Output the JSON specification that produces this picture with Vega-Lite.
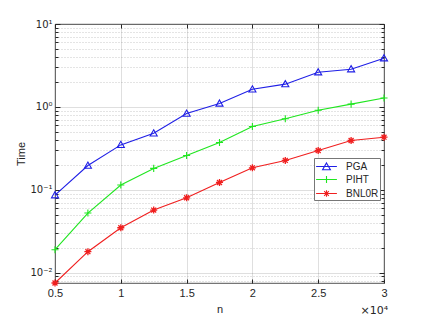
{
  "$schema": "https://vega.github.io/schema/vega-lite/v6.json",
  "width": 329,
  "height": 259,
  "autosize": {"type": "none"},
  "padding": {"left": 55, "top": 24, "right": 41, "bottom": 36},
  "background": "white",
  "title": {"text": "×10⁴", "orient": "bottom", "anchor": "end", "offset": -9, "dx": -2, "fontSize": 11, "fontWeight": "normal", "color": "#262626", "font": "DejaVu Sans"},
  "config": {
    "font": "Liberation Sans",
    "view": {"stroke": "#262626", "strokeWidth": 0.8},
    "axis": {"labelFont": "Liberation Sans", "titleFont": "Liberation Sans", "labelColor": "#262626", "titleColor": "#262626", "labelFontSize": 11, "titleFontSize": 11, "titleFontWeight": "normal", "domainColor": "#262626", "tickColor": "#262626", "gridColor": "#262626"}
  },
  "data": {"values": [
    {"n": 5000, "series": "PGA", "time": 0.086},
    {"n": 7500, "series": "PGA", "time": 0.196},
    {"n": 10000, "series": "PGA", "time": 0.348},
    {"n": 12500, "series": "PGA", "time": 0.48},
    {"n": 15000, "series": "PGA", "time": 0.83},
    {"n": 17500, "series": "PGA", "time": 1.10},
    {"n": 20000, "series": "PGA", "time": 1.63},
    {"n": 22500, "series": "PGA", "time": 1.88},
    {"n": 25000, "series": "PGA", "time": 2.62},
    {"n": 27500, "series": "PGA", "time": 2.85},
    {"n": 30000, "series": "PGA", "time": 3.86},
    {"n": 5000, "series": "PIHT", "time": 0.0189},
    {"n": 7500, "series": "PIHT", "time": 0.0524},
    {"n": 10000, "series": "PIHT", "time": 0.114},
    {"n": 12500, "series": "PIHT", "time": 0.181},
    {"n": 15000, "series": "PIHT", "time": 0.259},
    {"n": 17500, "series": "PIHT", "time": 0.372},
    {"n": 20000, "series": "PIHT", "time": 0.58},
    {"n": 22500, "series": "PIHT", "time": 0.72},
    {"n": 25000, "series": "PIHT", "time": 0.91},
    {"n": 27500, "series": "PIHT", "time": 1.08},
    {"n": 30000, "series": "PIHT", "time": 1.28},
    {"n": 5000, "series": "BNL0R", "time": 0.0075},
    {"n": 7500, "series": "BNL0R", "time": 0.0179},
    {"n": 10000, "series": "BNL0R", "time": 0.0348},
    {"n": 12500, "series": "BNL0R", "time": 0.0569},
    {"n": 15000, "series": "BNL0R", "time": 0.080},
    {"n": 17500, "series": "BNL0R", "time": 0.1225},
    {"n": 20000, "series": "BNL0R", "time": 0.184},
    {"n": 22500, "series": "BNL0R", "time": 0.226},
    {"n": 25000, "series": "BNL0R", "time": 0.298},
    {"n": 27500, "series": "BNL0R", "time": 0.393},
    {"n": 30000, "series": "BNL0R", "time": 0.431}
  ]},
  "encoding": {
    "x": {"field": "n", "type": "quantitative", "title": "n",
      "scale": {"domain": [5000, 30000], "nice": false, "zero": false},
      "axis": {"values": [5000, 10000, 15000, 20000, 25000, 30000], "labelExpr": "format(datum.value/10000, '.2~f')", "grid": true, "gridOpacity": 0.15, "tickSize": -4, "labelPadding": 8, "domain": false, "titlePadding": 5, "labelFlush": false}},
    "y": {"field": "time", "type": "quantitative",
      "scale": {"type": "log", "domain": [0.0075, 10], "nice": false}},
    "color": {"field": "series", "type": "nominal",
      "scale": {"domain": ["PGA", "PIHT", "BNL0R"], "range": ["#1f1fe6", "#1fe61f", "#f01f1f"]},
      "legend": {"title": null, "orient": "none", "legendX": 259, "legendY": 134, "fillColor": "white", "strokeColor": "#777777", "padding": 1, "labelFontSize": 10, "labelColor": "#262626", "labelFont": "Liberation Sans", "symbolSize": 169, "symbolStrokeWidth": 1.1, "rowPadding": 0, "symbolOffset": 4, "labelOffset": 12, "symbolType": "stroke",
        "encode": {"symbols": {"update": {"shape": {"signal": "datum.value=='PGA' ? 'M-1.6,0H1.6M0,-0.55L0.6,0.5L-0.6,0.5Z' : datum.value=='PIHT' ? 'M-1.6,0H1.6M0,-0.55V0.55' : 'M-1.6,0H1.6M0,-0.5V0.5M-0.5,0H0.5M-0.36,-0.36L0.36,0.36M-0.36,0.36L0.36,-0.36'"}, "fill": {"value": "transparent"}}}}}
    }
  },
  "layer": [
    {
      "mark": {"type": "line", "strokeWidth": 1.1, "clip": false},
      "encoding": {
        "y": {"field": "time", "type": "quantitative", "title": "Time",
          "scale": {"type": "log", "domain": [0.0075, 10], "nice": false},
          "axis": {
            "values": [0.008, 0.009, 0.01, 0.02, 0.03, 0.04, 0.05, 0.06, 0.07, 0.08, 0.09, 0.1, 0.2, 0.3, 0.4, 0.5, 0.6, 0.7, 0.8, 0.9, 1, 2, 3, 4, 5, 6, 7, 8, 9, 10],
            "labelExpr": "datum.value==10?'10¹':datum.value==1?'10⁰':datum.value==0.1?'10⁻¹':datum.value==0.01?'10⁻²':''",
            "labelFont": "DejaVu Sans", "labelFontSize": 10,
            "grid": true,
            "gridDash": {"condition": {"test": "indexof([0.01,0.1,1,10], datum.value) >= 0", "value": []}, "value": [1, 2]},
            "gridOpacity": {"condition": {"test": "indexof([0.01,0.1,1,10], datum.value) >= 0", "value": 0.15}, "value": 0.25},
            "tickSize": {"condition": {"test": "indexof([0.01,0.1,1,10], datum.value) >= 0", "value": -5}, "value": -3},
            "labelPadding": 8, "domain": false, "labelFlush": false, "labelOverlap": false, "titlePadding": 3}
        }
      }
    },
    {
      "transform": [{"filter": "datum.series == 'PGA'"}],
      "mark": {"type": "point", "filled": false, "strokeWidth": 1.1, "size": 50, "opacity": 1, "clip": false, "shape": "M0,-1L1,0.75L-1,0.75Z"},
      "encoding": {
        "x": {"field": "n", "type": "quantitative",
          "scale": {"domain": [5000, 30000], "nice": false, "zero": false},
          "axis": {"orient": "top", "values": [5000, 10000, 15000, 20000, 25000, 30000], "labels": false, "grid": false, "domain": false, "title": null, "tickSize": -4}},
        "y": {"field": "time", "type": "quantitative",
          "scale": {"type": "log", "domain": [0.0075, 10], "nice": false},
          "axis": {"orient": "right", "values": [0.008, 0.009, 0.01, 0.02, 0.03, 0.04, 0.05, 0.06, 0.07, 0.08, 0.09, 0.1, 0.2, 0.3, 0.4, 0.5, 0.6, 0.7, 0.8, 0.9, 1, 2, 3, 4, 5, 6, 7, 8, 9, 10], "labels": false, "grid": false, "domain": false, "title": null,
            "tickSize": {"condition": {"test": "indexof([0.01,0.1,1,10], datum.value) >= 0", "value": -5}, "value": -3}}
        }
      }
    },
    {
      "transform": [{"filter": "datum.series == 'PIHT'"}],
      "mark": {"type": "point", "filled": false, "strokeWidth": 1.1, "size": 50, "opacity": 1, "clip": false, "shape": "M0,-1V1M-1,0H1"},
      "encoding": {
        "x": {"field": "n", "type": "quantitative", "axis": null, "scale": {"domain": [5000, 30000], "nice": false, "zero": false}},
        "y": {"field": "time", "type": "quantitative", "axis": null, "scale": {"type": "log", "domain": [0.0075, 10], "nice": false}}}
    },
    {
      "transform": [{"filter": "datum.series == 'BNL0R'"}],
      "mark": {"type": "point", "filled": false, "strokeWidth": 1.3, "size": 50, "opacity": 1, "clip": false, "shape": "M0,-1V1M-1,0H1M-0.7,-0.7L0.7,0.7M-0.7,0.7L0.7,-0.7"},
      "encoding": {
        "x": {"field": "n", "type": "quantitative", "axis": null, "scale": {"domain": [5000, 30000], "nice": false, "zero": false}},
        "y": {"field": "time", "type": "quantitative", "axis": null, "scale": {"type": "log", "domain": [0.0075, 10], "nice": false}}}
    }
  ],
  "resolve": {"axis": {"y": "independent", "x": "independent"}}
}
